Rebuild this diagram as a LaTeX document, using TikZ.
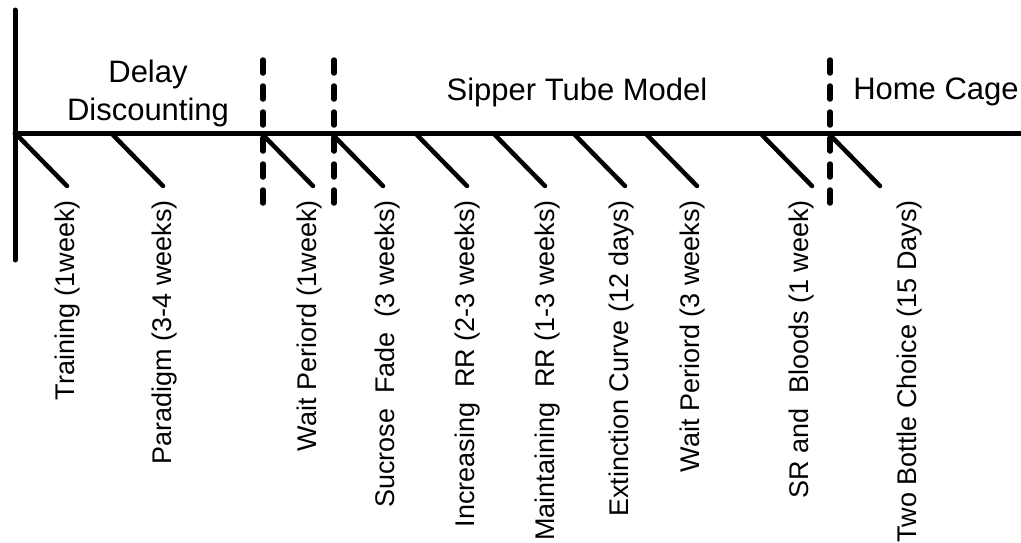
\documentclass[tikz,border=0pt]{standalone}
\usepackage{fontspec}
\setmainfont{Liberation Sans}
\begin{document}
\begin{tikzpicture}[x=1pt,y=1pt,line cap=round,
  axisline/.style={line width=5pt},
  ticky/.style={line width=4.5pt},
  phase/.style={line width=5.5pt,dash pattern=on 13pt off 13pt},
  lbl/.style={rotate=90,anchor=east,inner sep=0pt,font=\fontsize{27}{31}\selectfont},
  head/.style={anchor=base,inner sep=0pt,font=\fontsize{31}{35}\selectfont}]
\useasboundingbox (0,0) rectangle (1021,-542);
% axes
\coordinate (vtop) at (15,-10);
\coordinate (vbot) at (15,-260);
\coordinate (hl) at (15,-133);
\coordinate (hr) at (1030,-133);
\draw[axisline] (vtop) -- (vbot);
\draw[axisline] (hl) -- (hr);
% phase separators
\foreach \n/\x in {a/263,b/334,c/830}{
  \coordinate (p\n1) at (\x,-60);
  \coordinate (p\n2) at (\x,-210);
  \draw[phase] (p\n1) -- (p\n2);
}
% ticks
\foreach \n/\x in {1/17,2/113,3/263,4/333,5/417,6/495,7/575,8/647,9/762,10/830}{
  \coordinate (t\n s) at (\x,-135);
  \coordinate (t\n e) at (\x+50,-186);
  \draw[ticky] (t\n s) -- (t\n e);
}
% headers
\node[head] (h1a) at (148,-82) {Delay};
\node[head] (h1b) at (148,-120) {Discounting};
\node[head] (h2) at (577,-100) {Sipper Tube Model};
\node[head] (h3) at (936,-99) {Home Cage};
% labels
\node[lbl] (l1) at (68,-200) {Training (1week)};
\node[lbl] (l2) at (165,-200) {Paradigm (3-4 weeks)};
\node[lbl] (l3) at (310,-200) {Wait Periord (1week)};
\node[lbl] (l4) at (388,-200) {Sucrose\ \ Fade\ \ (3 weeks)};
\node[lbl] (l5) at (468,-200) {Increasing\ \ RR (2-3 weeks)};
\node[lbl] (l6) at (548,-200) {Maintaining\ \ RR (1-3 weeks)};
\node[lbl] (l7) at (622,-200) {Extinction Curve (12 days)};
\node[lbl] (l8) at (693,-200) {Wait Periord (3 weeks)};
\node[lbl] (l9) at (802,-200) {SR and\ \ Bloods (1 week)};
\node[lbl] (l10) at (910,-200) {Two Bottle Choice (15 Days)};
\end{tikzpicture}
\end{document}
